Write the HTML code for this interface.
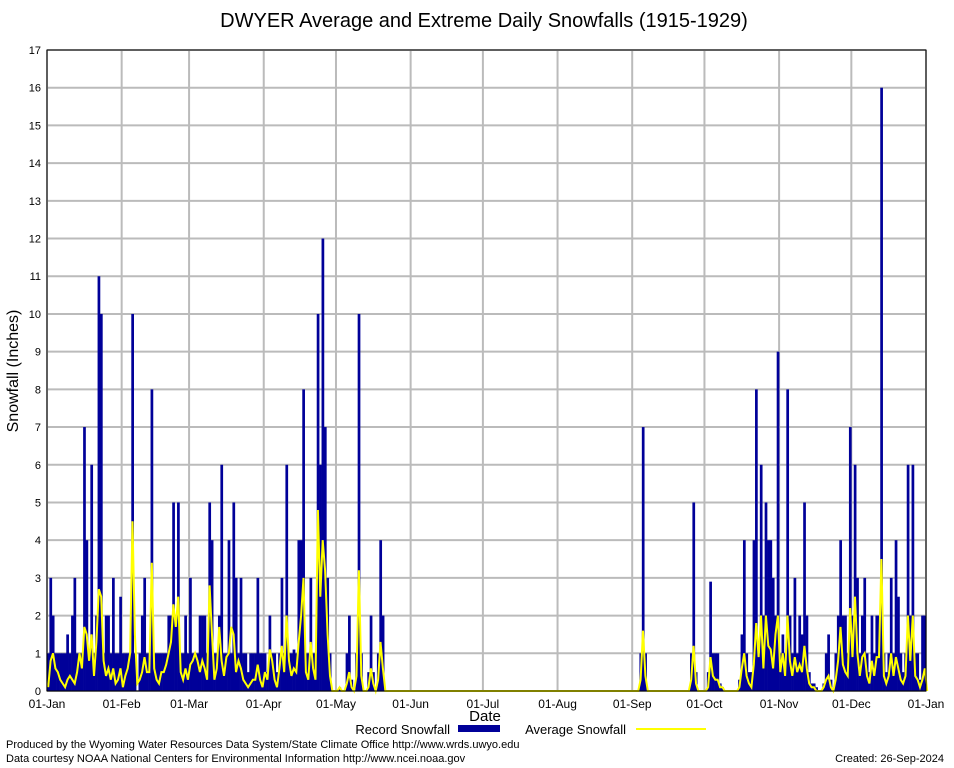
<!DOCTYPE html>
<html><head><meta charset="utf-8"><style>
body{margin:0;background:#fff;font-family:"Liberation Sans",sans-serif}
svg{display:block}
</style></head><body>
<svg id="chart" width="954" height="768" xmlns="http://www.w3.org/2000/svg" font-family="Liberation Sans, sans-serif">
<rect width="954" height="768" fill="#fff"/>
<text x="484" y="27" font-size="20" text-anchor="middle">DWYER Average and Extreme Daily Snowfalls (1915-1929)</text>
<g id="grid"></g>
<g id="bars"></g>
<g id="line"></g>
<g id="axes"></g>
<text transform="translate(18,371) rotate(-90)" font-size="16" text-anchor="middle">Snowfall (Inches)</text>
<text x="485" y="721" font-size="15" text-anchor="middle">Date</text>
<g>
<text x="450" y="734" font-size="13" text-anchor="end">Record Snowfall</text>
<rect x="458" y="725" width="42" height="7" fill="#000099"/>
<text x="626" y="734" font-size="13" text-anchor="end">Average Snowfall</text>
<line x1="636" y1="729" x2="706" y2="729" stroke="#ffff00" stroke-width="2"/>
</g>
<text x="6" y="748" font-size="11">Produced by the Wyoming Water Resources Data System/State Climate Office http://www.wrds.uwyo.edu</text>
<text x="6" y="762" font-size="11">Data courtesy NOAA National Centers for Environmental Information http://www.ncei.noaa.gov</text>
<text x="944" y="762" font-size="11" text-anchor="end">Created:  26-Sep-2024</text>
</svg>
<script>
const monthLabels=["01-Jan","01-Feb","01-Mar","01-Apr","01-May","01-Jun","01-Jul","01-Aug","01-Sep","01-Oct","01-Nov","01-Dec","01-Jan"];
const monthStarts=[0,31,59,90,120,151,181,212,243,273,304,334,365];
const yTicks=[0,1,2,3,4,5,6,7,8,9,10,11,12,13,14,15,16,17];
const recordJanMay=[1,3,2,1,1,1,1,1,1.5,1,2,3,1,1,1,7,4,1,6,1,2,11,10,1,2,2,1,3,1,1,2.5,
1,1,1,1,10,1,0,1,2,3,1,1,8,1,1,1,1,1,1,2,2,5,2,5,1,1,2,1,
3,1,1,1,2,2,2,1,5,4,1,1,2,6,1,1,4,1,5,3,1,3,1,1,0.5,1,1,1,3,1,1,
1,0.5,2,1,1,0.5,1,3,1,6,1,1,1.1,1,4,4,8,1,1,3,1,1,10,6,12,7,3,1,0,0,
0,0.1,0,0,1,2,0.3,0,1,10,1,0,0,0.5,2,0.5,0,1,4,2];
const recordSepDec=[0,0,0,1,7,1,0,0,0,0,0,0,0,0,0,0,0,0,0,0,0,0,0,0,1,5,0.5,0,0,0,
0,0.5,2.9,1,1,1,0.2,0.1,0,0,0,0,0,0,0.3,1.5,4,1,0.5,0.5,4,8,1,6,2,5,4,4,3,2,9,
1,1.5,1,8,2,1,3,1,2,1.5,5,2,0.5,0.2,0.2,0.1,0,0,0.2,1,1.5,0.3,0,1,2,4,2,2,1,7,
2,6,3,1,2,3,1,0.5,2,1,2,2,16,1,0.5,1,3,1,4,2.5,1,0.5,1,6,2,6,1,1,0.3,2,2,0];
const avgJanMay=[.1,.8,1,.6,.5,.3,.2,.1,.3,.4,.3,.2,.5,1,.6,1.7,1.5,.8,1.5,.4,1.3,2.7,2.5,.8,.4,.6,.3,.6,.2,.3,.6,
.1,.4,.6,1,4.5,1.5,.2,.3,.5,.9,.5,.5,3.4,.6,.3,.2,.5,.5,.7,1,1.3,2.3,1.7,2.5,.5,.3,.6,.3,
.7,.8,1,.8,.5,.8,.6,.3,2.8,1.5,.3,.6,1.7,.8,.4,.9,1,1.7,1.5,.5,.8,.6,.3,.2,.1,.2,.3,.3,.7,.3,.1,
.5,.3,1.1,.8,.3,.1,.6,1.2,.5,2,.8,.4,.6,.5,1.3,2,3,.5,.3,1.3,.6,.3,4.8,2.5,4,3.2,1.5,.4,0,0,
0,.1,0,0,.2,.5,.1,0,.4,3.2,.4,0,0,.1,.6,.2,0,.3,1.3,.6];
const avgSepDec=[0,0,0,.3,1.6,.4,0,0,0,0,0,0,0,0,0,0,0,0,0,0,0,0,0,0,.3,1.2,.2,0,0,0,
0,.1,.9,.4,.3,.3,.1,.1,0,0,0,0,0,0,.1,.6,1,.4,.2,.1,.7,1.8,.9,2,.6,2,1.2,1.1,.6,1.5,2,
.5,1,.4,2,.8,.4,.9,.5,.7,.5,1.2,.6,.2,.1,.1,0,0,0,.1,.3,.4,.1,0,.3,.8,1.7,.7,.5,.4,2.2,
.9,2.5,1,.4,.9,1,.4,.2,.8,.4,.9,.9,3.5,.4,.2,.4,1,.4,.9,.6,.3,.2,.4,2,.8,2,.4,.3,.1,.3,.6,0];

const NS="http://www.w3.org/2000/svg";
const L=47,R=926,T=50,B=691,YMAX=17,DAYS=365;
const gap=243-recordJanMay.length;
const record=recordJanMay.concat(new Array(gap).fill(0),recordSepDec);
const avg=avgJanMay.concat(new Array(gap).fill(0),avgSepDec);
function xs(d){return L+d*(R-L)/DAYS;}
function ys(v){return B-v*(B-T)/YMAX;}
function mk(tag,attrs,parent){const e=document.createElementNS(NS,tag);for(const k in attrs)e.setAttribute(k,attrs[k]);parent.appendChild(e);return e;}
const grid=document.getElementById('grid'),axes=document.getElementById('axes');
yTicks.forEach(v=>{
  const g=mk('line',{x1:L,x2:R,y1:ys(v),y2:ys(v),stroke:'#bbb','stroke-width':2},grid);
  
  
  const t=mk('text',{x:L-6,y:ys(v)+4,'font-size':11,'text-anchor':'end'},axes);
  t.textContent=v;
  
  
});
monthStarts.forEach((d,i)=>{
  const g=mk('line',{x1:xs(d),x2:xs(d),y1:T,y2:B,stroke:'#bbb','stroke-width':2},grid);
  
  
  const t=mk('text',{x:xs(d),y:708,'font-size':12,'text-anchor':'middle'},axes);
  t.textContent=monthLabels[i];
  
  
});
const bars=document.getElementById('bars');
const w=(R-L)/DAYS;
record.forEach((v,d)=>{
  if(v<=0)return;
  const r=mk('rect',{x:xs(d),y:ys(v),width:w+0.3,height:B-ys(v),fill:'#000099'},bars);
  
  
});
let pts=avg.map((v,d)=>xs(d+0.5).toFixed(1)+','+ys(v).toFixed(1)).join(' ');
const pl=mk('polyline',{points:pts,fill:'none',stroke:'#ffff00','stroke-width':2},document.getElementById('line'));


const fr=mk('rect',{x:L,y:T,width:R-L,height:B-T,fill:'none',stroke:'#000','stroke-width':1},axes);


</script>
</body></html>
